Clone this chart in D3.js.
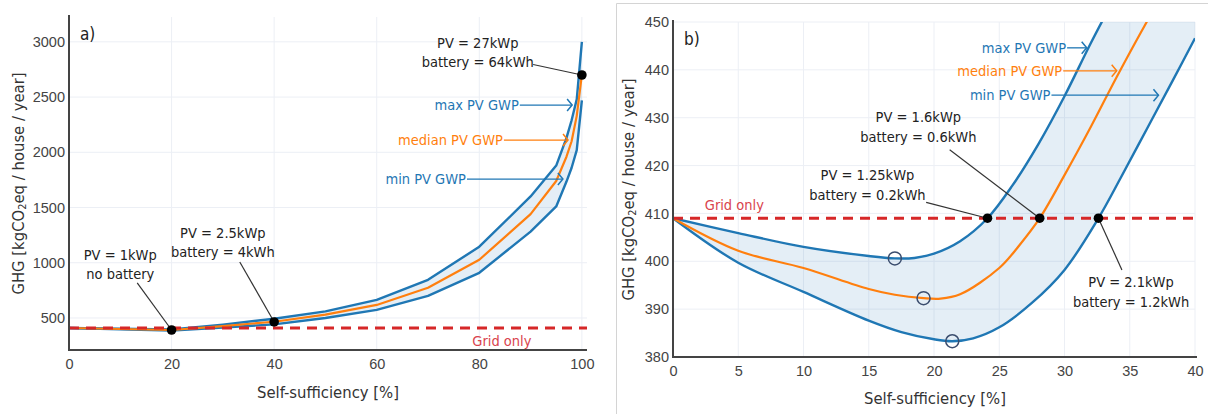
<!DOCTYPE html>
<html>
<head>
<meta charset="utf-8">
<script src="https://cdn.jsdelivr.net/npm/d3@7"></script>
<style>
  html, body { margin: 0; padding: 0; background: #fff; }
  svg { display: block; font-family: "DejaVu Sans Condensed", "DejaVu Sans", sans-serif; font-stretch: condensed; }
</style>
</head>
<body>
<svg id="chart" width="1208" height="414"></svg>
<script>
// ---- panel a) whole range ----
const selfSuffA = [0, 10, 20, 30, 40, 50, 60, 70, 80, 90, 95, 97, 98, 99, 100];
const maxGwpA   = [409, 403, 397, 440, 493, 560, 664, 845, 1145, 1600, 1880, 2130, 2290, 2480, 3000];
const medGwpA   = [409, 400, 391, 427, 466, 530, 618, 773, 1027, 1440, 1740, 1960, 2100, 2330, 2700];
const minGwpA   = [409, 397, 386, 413, 442, 500, 573, 700, 909, 1282, 1510, 1735, 1860, 2020, 2470];
const xTicksA = [0, 20, 40, 60, 80, 100];
const yTicksA = [500, 1000, 1500, 2000, 2500, 3000];
const markersA = [[20, 391], [40, 464], [100, 2700]];

// ---- panel b) zoom on low self-sufficiency ----
const selfSuffMaxB = [0, 5, 10, 15, 17, 18.5, 20, 22, 24.1, 26, 28, 30, 32, 34, 36, 40];
const maxGwpB      = [409, 405.9, 403, 401.1, 400.6, 400.7, 401.6, 404.2, 409, 415.8, 424.5, 434.5, 445.5, 456, 467, 489];
const selfSuffMedB = [0, 5, 10, 15, 17, 19.2, 20.5, 22, 25, 26.5, 28.1, 30, 32, 34, 36.3, 38, 40];
const medGwpB      = [409, 402.2, 398.6, 394.2, 393, 392.3, 392.2, 393.1, 398.6, 403.2, 409, 418, 428, 438.5, 450, 458, 467];
const selfSuffMinB = [0, 5, 10, 15, 17.5, 20, 21.4, 23, 25, 27.5, 30, 32.6, 34.3, 36.3, 38.3, 40];
const minGwpB      = [409, 399.7, 393.6, 387.6, 385.2, 383.7, 383.3, 383.9, 386.2, 391.3, 398.2, 409, 417.4, 427.6, 437.8, 446.6];
const xTicksB = [0, 5, 10, 15, 20, 25, 30, 35, 40];
const yTicksB = [380, 390, 400, 410, 420, 430, 440, 450];
const markersB = [[24.1, 409], [28.1, 409], [32.6, 409]];
const minimaB = [[17, 400.6], [19.2, 392.3], [21.4, 383.3]];

const GRID_ONLY = 409;

const BLUE = "#1f77b4", ORANGE = "#ff7f0e", RED = "#d62728";

const svg = d3.select("#chart");

// border around panel b
svg.append("path")
  .attr("d", "M616.5,414 V3.5 H1208")
  .attr("fill", "none").attr("stroke", "#d4d4d4").attr("stroke-width", 1);

function zip(xs, ys) { return xs.map((x, i) => [x, ys[i]]); }

function drawPanel(cfg) {
  const x = d3.scaleLinear().domain(cfg.xDomain).range(cfg.xRange);
  const y = d3.scaleLinear().domain(cfg.yDomain).range(cfg.yRange);
  const g = svg.append("g");
  const [x0, x1] = cfg.xRange, [y0, y1] = cfg.yRange;

  // grid
  g.append("g").selectAll("line").data(cfg.xTicks.filter(t => t > 0)).join("line")
    .attr("x1", d => x(d)).attr("x2", d => x(d)).attr("y1", y0).attr("y2", y1)
    .attr("stroke", "#eceff5").attr("stroke-width", 1);
  g.append("g").selectAll("line").data(cfg.yTicks.filter(t => y(t) < y0 - 1)).join("line")
    .attr("x1", x0).attr("x2", x1).attr("y1", d => y(d)).attr("y2", d => y(d))
    .attr("stroke", "#eceff5").attr("stroke-width", 1);

  const clipId = "clip-" + cfg.name;
  svg.append("clipPath").attr("id", clipId).append("rect")
    .attr("x", x0).attr("y", y1).attr("width", x1 - x0).attr("height", y0 - y1);
  const plot = g.append("g").attr("clip-path", `url(#${clipId})`);

  const curve = cfg.curve;
  const maxPts = zip(cfg.maxX, cfg.maxY), medPts = zip(cfg.medX, cfg.medY), minPts = zip(cfg.minX, cfg.minY);

  // band: max forward then min backward
  const line = d3.line().x(d => x(d[0])).y(d => y(d[1])).curve(curve);
  const upper = line(maxPts);
  const lower = line(minPts.slice().reverse());
  plot.append("path")
    .attr("d", upper + "L" + lower.slice(1) + "Z")
    .attr("fill", "rgba(31,119,180,0.12)");

  plot.append("path").datum(minPts).attr("d", line)
    .attr("fill", "none").attr("stroke", BLUE).attr("stroke-width", 2.4).attr("stroke-linejoin", "round");
  plot.append("path").datum(maxPts).attr("d", line)
    .attr("fill", "none").attr("stroke", BLUE).attr("stroke-width", 2.4).attr("stroke-linejoin", "round");
  plot.append("path").datum(medPts).attr("d", line)
    .attr("fill", "none").attr("stroke", ORANGE).attr("stroke-width", 2.2).attr("stroke-linejoin", "round");

  // grid only reference
  plot.append("line")
    .attr("x1", x0).attr("x2", x1).attr("y1", y(GRID_ONLY)).attr("y2", y(GRID_ONLY))
    .attr("stroke", RED).attr("stroke-width", 3).attr("stroke-dasharray", "10,7");

  // axes
  const xAxis = d3.axisBottom(x).tickValues(cfg.xTicks).tickFormat(d3.format("d")).tickSize(0).tickPadding(9);
  const yAxis = d3.axisLeft(y).tickValues(cfg.yTicks).tickFormat(d3.format("d")).tickSize(0).tickPadding(4);
  const gx = g.append("g").attr("transform", `translate(0,${y0})`).call(xAxis);
  const gy = g.append("g").attr("transform", `translate(${x0},0)`).call(yAxis);
  [gx, gy].forEach(a => {
    a.select(".domain").attr("stroke", "#444").attr("stroke-width", 2);
    a.selectAll("text").attr("font-size", 14.5).attr("fill", "#444").attr("font-family", null);
  });
  gx.select(".domain").attr("d", `M${x0},0H${cfg.axisEnd}`);
  gy.select(".domain").attr("d", `M0,${y0 + 1}V${y1 - 2}`);

  // titles
  g.append("text").attr("x", (x0 + cfg.axisEnd) / 2).attr("y", cfg.xTitleY)
    .attr("text-anchor", "middle").attr("font-size", 16.5).attr("fill", "#333")
    .text("Self-sufficiency [%]");
  const yt = g.append("text")
    .attr("transform", `translate(${cfg.yTitleX},${(y0 + y1) / 2}) rotate(-90)`)
    .attr("text-anchor", "middle").attr("dominant-baseline", "central")
    .attr("font-size", 16.5).attr("fill", "#333");
  yt.append("tspan").text("GHG [kgCO");
  yt.append("tspan").attr("font-size", 11).attr("dy", 4).text("2");
  yt.append("tspan").attr("dy", -4).text("eq / house / year]");

  g.append("text").attr("x", x0 + 11).attr("y", y1 + 23)
    .attr("font-size", 17).attr("fill", "#222").text(cfg.name + ")");

  // annotations
  const ann = g.append("g").attr("font-size", 14.5);
  cfg.notes.forEach(n => {
    ann.append("line")
      .attr("x1", x(n.from[0])).attr("y1", y(n.from[1]))
      .attr("x2", x(n.to[0])).attr("y2", y(n.to[1]))
      .attr("stroke", "#333").attr("stroke-width", 1.2);
    n.lines.forEach((t, i) => {
      ann.append("text").attr("x", x(n.at[0])).attr("y", y(n.at[1]) + i * cfg.lineGap)
        .attr("text-anchor", "middle").attr("dominant-baseline", "central")
        .attr("fill", "#222").text(t);
    });
  });

  cfg.arrows.forEach(a => {
    const ax = x(a.textEnd), ay = y(a.y), bx = x(a.head);
    ann.append("text").attr("x", ax - 1).attr("y", ay)
      .attr("text-anchor", "end").attr("dominant-baseline", "central")
      .attr("fill", a.color).text(a.label);
    ann.append("line").attr("x1", ax).attr("x2", bx).attr("y1", ay).attr("y2", ay)
      .attr("stroke", a.color).attr("stroke-width", 1.3);
    ann.append("path").attr("d", `M${bx - 5},${ay - 6}L${bx},${ay}L${bx - 5},${ay + 6}`)
      .attr("fill", "none").attr("stroke", a.color).attr("stroke-width", 1.5);
  });

  ann.append("text").attr("x", x(cfg.gridLabel[0])).attr("y", y(cfg.gridLabel[1]))
    .attr("text-anchor", "middle").attr("dominant-baseline", "central")
    .attr("fill", "#d9434d").text("Grid only");

  g.append("g").selectAll("circle.min").data(cfg.minima || []).join("circle")
    .attr("cx", d => x(d[0])).attr("cy", d => y(d[1])).attr("r", 6.5)
    .attr("fill", "none").attr("stroke", "#3b4d6e").attr("stroke-width", 1.5);

  g.append("g").selectAll("circle.dot").data(cfg.markers).join("circle")
    .attr("cx", d => x(d[0])).attr("cy", d => y(d[1])).attr("r", 4.8)
    .attr("fill", "#000");
}

drawPanel({
  name: "a",
  xDomain: [0, 101], xRange: [69, 587], axisEnd: 587,
  yDomain: [210, 3225], yRange: [350, 17],
  xTicks: xTicksA, yTicks: yTicksA,
  maxX: selfSuffA, maxY: maxGwpA, medX: selfSuffA, medY: medGwpA, minX: selfSuffA, minY: minGwpA,
  curve: d3.curveLinear,
  markers: markersA,
  xTitleY: 398, yTitleX: 18, lineGap: 19,
  notes: [
    { lines: ["PV = 1kWp", "no battery"], at: [10, 1070], from: [13.3, 817], to: [20, 391] },
    { lines: ["PV = 2.5kWp", "battery = 4kWh"], at: [30, 1270], from: [33.3, 1007], to: [40, 464] },
    { lines: ["PV = 27kWp", "battery = 64kWh"], at: [79.7, 2990], from: [90.5, 2795], to: [100, 2700] }
  ],
  arrows: [
    { label: "max PV GWP", color: BLUE, textEnd: 87.9, head: 98.1, y: 2428 },
    { label: "median PV GWP", color: ORANGE, textEnd: 84.8, head: 97.3, y: 2111 },
    { label: "min PV GWP", color: BLUE, textEnd: 77.6, head: 96.3, y: 1758 }
  ],
  gridLabel: [84.4, 291]
});

drawPanel({
  name: "b",
  xDomain: [0, 40], xRange: [673, 1195], axisEnd: 1197,
  yDomain: [380, 450], yRange: [357, 22],
  xTicks: xTicksB, yTicks: yTicksB,
  maxX: selfSuffMaxB, maxY: maxGwpB, medX: selfSuffMedB, medY: medGwpB, minX: selfSuffMinB, minY: minGwpB,
  curve: d3.curveCatmullRom.alpha(0.5),
  markers: markersB, minima: minimaB,
  xTitleY: 404, yTitleX: 628, lineGap: 20,
  notes: [
    { lines: ["PV = 1.25kWp", "battery = 0.2kWh"], at: [14.9, 418.0], from: [19.4, 412.3], to: [24.1, 409] },
    { lines: ["PV = 1.6kWp", "battery = 0.6kWh"], at: [18.8, 430.1], from: [21.2, 423.3], to: [28.1, 409] },
    { lines: ["PV = 2.1kWp", "battery = 1.2kWh"], at: [35.1, 395.7], from: [34.4, 398.2], to: [32.6, 409] }
  ],
  arrows: [
    { label: "max PV GWP", color: BLUE, textEnd: 30.2, head: 31.7, y: 444.6 },
    { label: "median PV GWP", color: ORANGE, textEnd: 29.9, head: 34.0, y: 439.8 },
    { label: "min PV GWP", color: BLUE, textEnd: 29.0, head: 37.2, y: 434.7 }
  ],
  gridLabel: [4.7, 411.8]
});
</script>
</body>
</html>
